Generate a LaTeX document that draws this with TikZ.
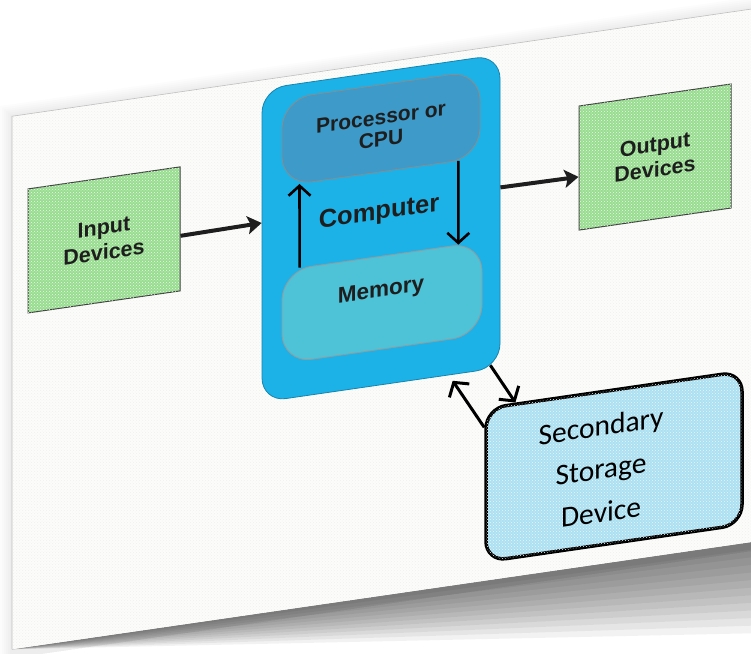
\documentclass[tikz,border=0pt]{standalone}
\usepackage{fontspec}
\setmainfont{Liberation Sans}
\newfontfamily\calibfont{Carlito}
\usetikzlibrary{arrows.meta,calc,patterns}

\definecolor{paper}{RGB}{252,252,250}
\definecolor{boxgreen}{RGB}{150,222,142}
\definecolor{compblue}{RGB}{28,178,232}
\definecolor{procblue}{RGB}{62,154,200}
\definecolor{memblue}{RGB}{78,194,214}
\definecolor{secblue}{RGB}{170,225,242}
\definecolor{inkc}{RGB}{30,30,30}

\tikzset{
  grain/.style={postaction={pattern=crosshatch dots, pattern color=black!#1}},
  devbox/.style={draw=black!75, line width=1pt, fill=boxgreen, grain=5, minimum width=152pt,
    minimum height=124pt, inner sep=0pt, align=center, text=inkc,
    font=\fontsize{21.5}{25}\selectfont\bfseries},
  compbox/.style={draw=compblue!75!black, line width=0.8pt, fill=compblue,
    rounded corners=24pt, minimum width=238pt, minimum height=313pt, inner sep=0pt},
  procbox/.style={draw=black!45, line width=0.8pt, fill=procblue, rounded corners=30pt,
    minimum width=198pt, minimum height=87pt, inner sep=0pt, align=center, text=inkc,
    font=\fontsize{21}{22}\selectfont\bfseries},
  membox/.style={draw=black!40, line width=0.8pt, fill=memblue, rounded corners=30pt,
    minimum width=200pt, minimum height=93pt, inner sep=0pt},
  lbl/.style={inner sep=0pt, text=inkc, font=\fontsize{22.5}{24}\selectfont\bfseries},
  bigl/.style={inner sep=0pt, text=inkc, font=\fontsize{25.5}{27}\selectfont\bfseries},
  secbox/.style={draw=black, line width=3.5pt, fill=secblue, grain=5, rounded corners=20pt,
    minimum width=256pt, minimum height=153pt, inner sep=0pt},
  sectext/.style={inner sep=0pt, align=center, text=black,
    font=\calibfont\fontsize{29.5}{43}\selectfont},
  bigarrow/.style={draw=inkc, line width=4pt, -{Stealth[length=14pt,width=18pt,inset=3pt]}},
  veearrow/.style={draw=black, line width=2.6pt, -{Straight Barb[length=10pt,width=22pt]}},
  veearrowb/.style={draw=black, line width=3pt, -{Straight Barb[length=10pt,width=24pt]}},
}

\begin{document}
\begin{tikzpicture}[x=1pt,y=-1pt]
\useasboundingbox (0,0) rectangle (751,653);
\fill[white] (0,0) rectangle (751,653);
\begin{scope}
\clip (0,0) rectangle (751,653);
\begin{scope}[yslant=0.145, transform shape]
  % shadows
  \foreach \t in {2,4,...,12} {
    \fill[black, opacity=0.01] (12-\t,118-\t) rectangle (790,660);
  }
  \foreach \t in {8,16,...,96} {
    \fill[black, opacity=0.05] (12,651) -- (790,651) -- (790,651+\t) -- cycle;
  }
  % sheet
  \fill[paper] (12,118) rectangle (790,651);
  \fill[pattern=crosshatch dots, pattern color=black!6] (12,118) rectangle (790,651);
  \draw[black!25, line width=0.6pt] (790,118) -- (12,118) -- (12,651);

  % nodes
  \node[devbox] (in) at (104,255) {Input\\Devices};
  \node[devbox] (out) at (655,252) {Output\\Devices};
  \node[compbox] (comp) at (381,283.5) {};
  \node[procbox] (proc) at (381,183.5) {Processor or\\CPU};
  \node[membox] (mem) at (382,358) {};
  \node[lbl] (memlbl) at (381,347) {Memory};
  \node[bigl] (complbl) at (379,268) {Computer};
  \node[secbox] (sec) at (614,555.5) {};
  \node[sectext] (seclbl) at (601,556) {Secondary\\Storage\\Device};

  % connectors
  \draw[bigarrow] ($(in.north east)!0.556!(in.south east)$) -- ($(comp.north west)!0.428!(comp.south west)$);
  \draw[bigarrow] ($(comp.north east)!0.425!(comp.south east)$) -- ($(out.north west)!0.57!(out.south west)$);
  \draw[veearrow] ($(mem.north west)!0.09!(mem.north east)$) -- ($(proc.south west)!0.09!(proc.south east)$);
  \draw[veearrow] ($(proc.south west)!0.889!(proc.south east)$) -- ($(mem.north west)!0.88!(mem.north east)$);
  \coordinate (c1) at ($(comp.south west)!0.80!(comp.south east)+(0,6)$);
  \coordinate (c2) at ($(comp.south west)!0.958!(comp.south east)+(0,-4)$);
  \draw[veearrowb] ($(sec.north west)!0.13!(sec.south west)$) -- (c1);
  \draw[veearrowb] (c2) -- ($(sec.north west)!0.12!(sec.north east)$);
\end{scope}
\end{scope}
\end{tikzpicture}
\end{document}
